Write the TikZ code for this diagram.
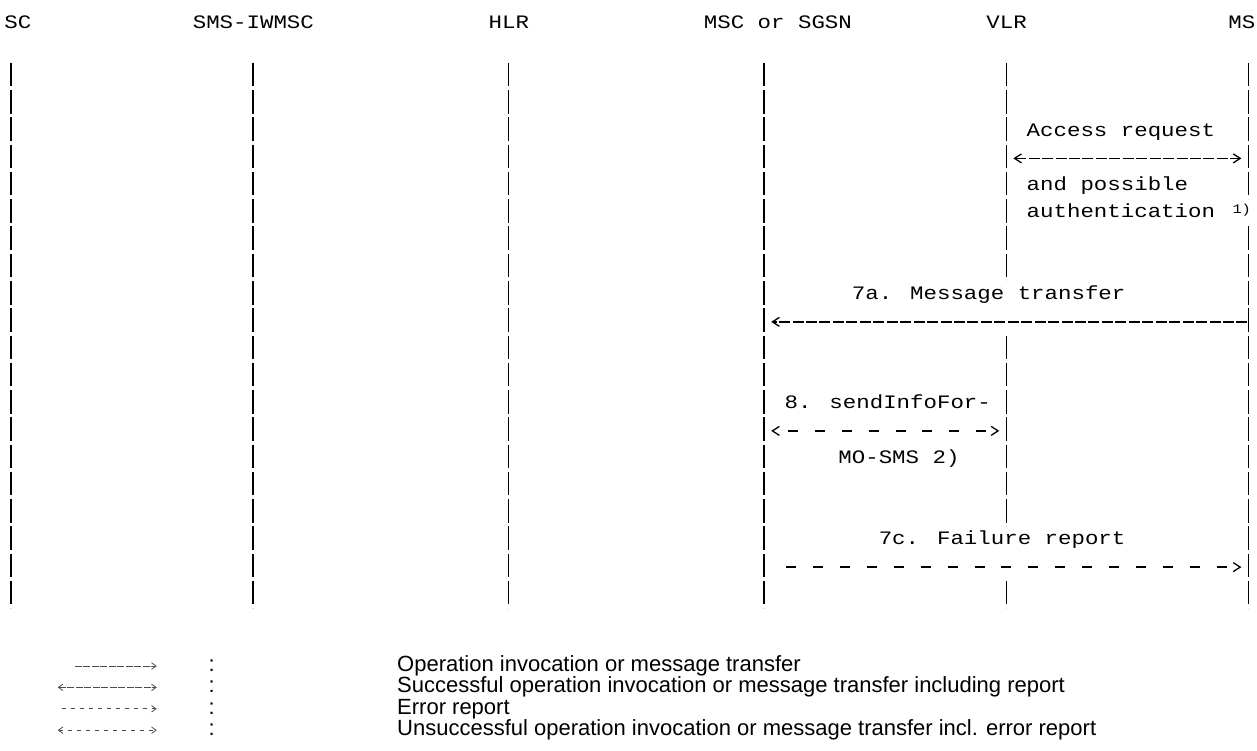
\documentclass[tikz,border=0pt]{standalone}
\usepackage{fontspec}
\setmainfont{Liberation Sans}
\newfontfamily\asciifont[FakeStretch=1.18]{Liberation Mono}
\usetikzlibrary{positioning, arrows.meta}

\begin{document}
\begin{tikzpicture}[
    x=1pt, y=-1pt,
    >={Straight Barb[length=7pt, width=9pt]},
    smalltip/.tip={Straight Barb[length=4.5pt, width=6.5pt]},
    % Define styles for the chart
    entity/.style={
        font=\asciifont\fontsize{19}{23}\selectfont,
        inner sep=0pt,
        anchor=base west
    },
    msg_text/.style={
        font=\asciifont\fontsize{19}{23}\selectfont,
        inner sep=0pt,
        anchor=base west
    },
    note_text/.style={
        font=\asciifont\fontsize{13}{15}\selectfont,
        inner sep=0pt,
        anchor=base west
    },
    lifeline/.style={
        line width=1.5pt,
        dash pattern=on 23.5pt off 3.75pt
    },
    msg/.style={
        line width=1.3pt,
        dash pattern=on 11pt off 2.45pt
    },
    err/.style={
        line width=1.3pt,
        dash pattern=on 10pt off 16.9pt
    },
    legend_text/.style={
        font=\fontsize{22}{21}\selectfont,
        inner sep=0pt,
        text height=16pt,
        text depth=5pt,
        anchor=west
    },
    legend_msg/.style={
        black!70, line width=0.8pt,
        dash pattern=on 7pt off 1.5pt
    },
    legend_err/.style={
        black!70, line width=0.8pt,
        dash pattern=on 4pt off 5pt
    }
    ]

    \def\cw{13.45}
    \def\rh{27.25}

    \useasboundingbox (0,0) rectangle (1257,751);

    % --- 1. ENTITIES ---
    \node[entity] (sc)    at ({4.3+0*\cw}, 29)  {SC};
    \node[entity] (iwmsc) at ({4.3+14*\cw}, 29) {SMS-IWMSC};
    \node[entity] (hlr)   at ({4.3+36*\cw}, 29) {HLR};
    \node[entity] (msc)   at ({4.3+52*\cw}, 29) {MSC or SGSN};
    \node[entity] (vlr)   at ({4.3+73*\cw}, 29) {VLR};
    \node[entity] (ms)    at ({4.3+91*\cw}, 29) {MS};

    % lifeline columns and row edges
    \foreach \name/\c in {sc/0, iwmsc/18, hlr/37, msc/56, vlr/74, ms/92}
        \coordinate (\name_top) at ({11+\c*\cw}, 63);
    \foreach \k in {1,...,21}
        \coordinate (row\k) at (0, {63+(\k-1)*\rh});
    \foreach \k in {1,...,20}
        \coordinate (mid\k) at (0, {63+(\k-0.5)*\rh});

    % --- 2. LIFELINES ---
    \foreach \name in {sc, iwmsc, hlr, msc}
        \draw[lifeline] (\name_top) -- (\name_top |- row21);
    \draw[lifeline] (vlr_top) -- (vlr_top |- row9);
    \draw[lifeline] (vlr_top |- row11) -- (vlr_top |- row18);
    \draw[lifeline] (vlr_top |- row20) -- (vlr_top |- row21);
    \draw[lifeline] (ms_top) -- (ms_top |- row6);
    \draw[lifeline] (ms_top |- row7) -- (ms_top |- row21);

    % --- 3. ACCESS REQUEST ---
    \node[msg_text] (access) at ({4.3+76*\cw}, {68+2.5*\rh}) {Access request};
    \draw[msg, <->, shorten <=7pt, shorten >=7pt] (vlr_top |- mid4) -- (ms_top |- mid4);
    \node[msg_text] (possible) at ({4.3+76*\cw}, {68+4.5*\rh}) {and possible};
    \node[msg_text] (auth) at ({4.3+76*\cw}, {68+5.5*\rh}) {authentication};
    \node[note_text] (note1) at ({4.3+91.3*\cw}, {64+5.5*\rh}) {1)};

    % --- 4. MESSAGE TRANSFER ---
    \node[msg_text] (transfer) at ({4.3+63*\cw}, {68+8.5*\rh}) {7a. Message transfer};
    \draw[msg, ->, shorten <=1pt, shorten >=7pt] (ms_top |- mid10) -- (msc_top |- mid10);

    % sendInfoForMO-SMS
    \node[msg_text] (sendinfo) at ({4.3+58*\cw}, {68+12.5*\rh}) {8. sendInfoFor-};
    \draw[err, <->, dash phase=12pt, shorten <=7pt, shorten >=7pt] (msc_top |- mid14) -- (vlr_top |- mid14);
    \node[msg_text] (mosms) at ({4.3+62*\cw}, {68+14.5*\rh}) {MO-SMS 2)};

    % failure report
    \node[msg_text] (failure) at ({4.3+65*\cw}, {68+17.5*\rh}) {7c. Failure report};
    \draw[err, ->, shorten <=22pt, shorten >=7pt] (msc_top |- mid19) -- (ms_top |- mid19);

    % --- 5. LEGEND ---
    \node[legend_text] (leg1) at (397, 666) {Operation invocation or message transfer};
    \node[legend_text, below=0pt of leg1.south west, anchor=north west] (leg2) {Successful operation invocation or message transfer including report};
    \node[legend_text, below=0pt of leg2.south west, anchor=north west] (leg3) {Error report};
    \node[legend_text, below=0pt of leg3.south west, anchor=north west] (leg4) {Unsuccessful operation invocation or message transfer incl. error report};

    \node[legend_text, left=182pt of leg1] (sep1) {:};
    \node[legend_text, left=182pt of leg2] (sep2) {:};
    \node[legend_text, left=182pt of leg3] (sep3) {:};
    \node[legend_text, left=182pt of leg4] (sep4) {:};

    \draw[legend_msg, -smalltip] ([xshift=-137pt]sep1.center) -- ([xshift=-55pt]sep1.center);
    \draw[legend_msg, smalltip-smalltip] ([xshift=-154pt]sep2.center) -- ([xshift=-55pt]sep2.center);
    \draw[legend_err, -smalltip] ([xshift=-150pt]sep3.center) -- ([xshift=-55pt]sep3.center);
    \draw[legend_err, smalltip-smalltip] ([xshift=-154pt]sep4.center) -- ([xshift=-55pt]sep4.center);

\end{tikzpicture}
\end{document}
